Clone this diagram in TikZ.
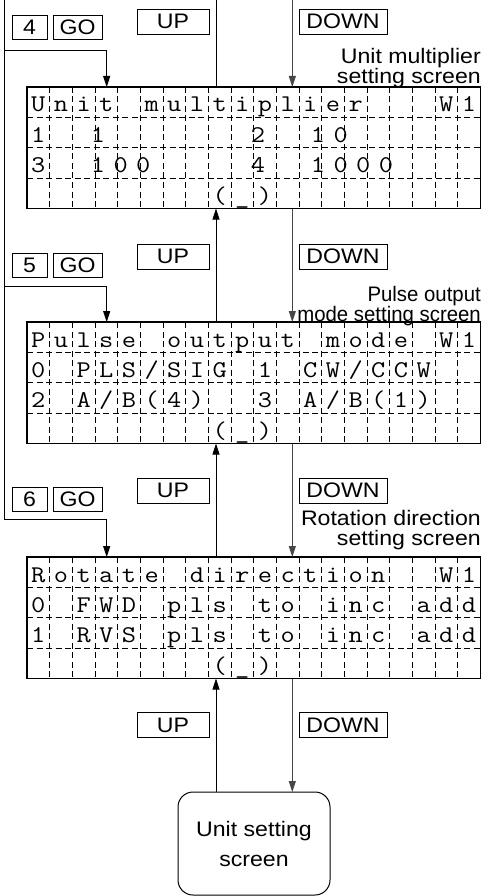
\documentclass[tikz,border=0pt]{standalone}
\usepackage{fontspec}
\usetikzlibrary{arrows.meta}
\newfontfamily\lblfont[FakeStretch=1.1]{Liberation Sans}
\newfontfamily\lblnarrow[FakeStretch=0.97]{Liberation Sans}
\newfontfamily\lcdfont[FakeStretch=1.15]{Latin Modern Mono}
\def\lp{(}
\def\rp{)}
\tikzset{
  lbl/.style={font=\lblfont\fontsize{21}{24}\selectfont, inner sep=0pt, anchor=base east},
  lbln/.style={font=\lblnarrow\fontsize{21}{24}\selectfont, inner sep=0pt, anchor=base east},
  keybox/.style={draw, line width=0.9pt, inner sep=0pt, outer sep=0pt,
    font=\lblfont\fontsize{21}{24}\selectfont},
  numkey/.style={keybox, minimum height=24pt},
  updown/.style={keybox, minimum height=25pt},
  lcd/.style={font=\lcdfont\fontsize{24}{28}\selectfont, inner sep=0pt, anchor=base},
  screenbox/.style={draw, line width=1.3pt, minimum width=453.3pt, minimum height=121.5pt,
    anchor=north west, inner sep=0pt, outer sep=0pt},
  cell/.style={line width=0.8pt, dash pattern=on 6pt off 3.5pt},
  conn/.style={line width=0.9pt},
  downconn/.style={line width=0.9pt, draw=black!72},
  tip/.style={-{Triangle[length=11pt,width=7pt]}},
  endbox/.style={draw, line width=1pt, rounded corners=15pt, minimum width=152pt,
    minimum height=103pt, anchor=north, outer sep=0pt, align=center,
    font=\lblfont\fontsize{21}{30}\selectfont}
}
\newcommand\lcdgrid[2]{%
  \node[screenbox] (#1) at (27,#2) {};
  \foreach \k in {1,...,19}
    \draw[cell] ({27+\k*22.667},#2) -- ({27+\k*22.667},{#2+121.5});
  \foreach \r in {1,2,3}
    \draw[cell] (27,{#2+30.375*\r}) -- (480.3,{#2+30.375*\r});
}
\newcommand\lcdrow[4]{%
  \foreach \c [count=\i from 0] in {#4}
    \node[lcd] (#1r#3c\i) at ({27+(\i+0.5)*22.667},{#2+30.375*#3+25}) {\c};
}
\begin{document}
\begin{tikzpicture}[x=1pt,y=-1pt]
\useasboundingbox (0,0) rectangle (483,896);

% ---------- screens ----------
\lcdgrid{A}{87}
\lcdgrid{B}{322}
\lcdgrid{C}{557}

% screen A text
\lcdrow{A}{87}{0}{U,n,i,t,{},m,u,l,t,i,p,l,i,e,r,{},{},{},W,1}
\node[lcd] (Ar1a) at (38.3,142.4) {1};
\node[lcd] (Ar1b) at (98,142.4) {1};
\node[lcd] (Ar1c) at (258,142.4) {2};
\node[lcd] (Ar1d) at (318,142.4) {1};
\node[lcd] (Ar1e) at (340.7,142.4) {0};
\node[lcd] (Ar2a) at (38.3,172.8) {3};
\node[lcd] (Ar2b) at (98,172.8) {1};
\node[lcd] (Ar2c) at (120.7,172.8) {0};
\node[lcd] (Ar2d) at (143.3,172.8) {0};
\node[lcd] (Ar2e) at (258,172.8) {4};
\node[lcd] (Ar2f) at (318,172.8) {1};
\node[lcd] (Ar2g) at (340.7,172.8) {0};
\node[lcd] (Ar2h) at (363.3,172.8) {0};
\node[lcd] (Ar2i) at (386,172.8) {0};
\lcdrow{A}{87}{3}{{},{},{},{},{},{},{},{},\lp,\_,\rp}

% screen B text
\lcdrow{B}{322}{0}{P,u,l,s,e,{},o,u,t,p,u,t,{},m,o,d,e,{},W,1}
\lcdrow{B}{322}{1}{0,{},P,L,S,/,S,I,G,{},1,{},C,W,/,C,C,W}
\lcdrow{B}{322}{2}{2,{},A,/,B,\lp,4,\rp,{},{},3,{},A,/,B,\lp,1,\rp}
\lcdrow{B}{322}{3}{{},{},{},{},{},{},{},{},\lp,\_,\rp}

% screen C text
\lcdrow{C}{557}{0}{R,o,t,a,t,e,{},d,i,r,e,c,t,i,o,n,{},{},W,1}
\lcdrow{C}{557}{1}{0,{},F,W,D,{},p,l,s,{},t,o,{},i,n,c,{},a,d,d}
\lcdrow{C}{557}{2}{1,{},R,V,S,{},p,l,s,{},t,o,{},i,n,c,{},a,d,d}
\lcdrow{C}{557}{3}{{},{},{},{},{},{},{},{},\lp,\_,\rp}

% ---------- key boxes ----------
\node[numkey, minimum width=35pt] (n4) at (29.5,27) {4};
\node[numkey, minimum width=49pt] (go4) at (77.5,27) {GO};
\node[updown, minimum width=72pt] (up1) at (173,21.5) {UP};
\node[updown, minimum width=88pt] (dn1) at (343,21.5) {DOWN};

\node[numkey, minimum width=35pt] (n5) at (29.5,265) {5};
\node[numkey, minimum width=49pt] (go5) at (77.5,265) {GO};
\node[updown, minimum width=72pt] (up2) at (173,256.5) {UP};
\node[updown, minimum width=88pt] (dn2) at (343,256.5) {DOWN};

\node[numkey, minimum width=35pt] (n6) at (29.5,499.5) {6};
\node[numkey, minimum width=49pt] (go6) at (77.5,499.5) {GO};
\node[updown, minimum width=72pt] (up3) at (173,490.5) {UP};
\node[updown, minimum width=88pt] (dn3) at (343,490.5) {DOWN};

\node[updown, minimum width=72pt] (up4) at (173,725) {UP};
\node[updown, minimum width=88pt] (dn4) at (343,725) {DOWN};

% ---------- screen titles ----------
\node[lbl] (la1) at (481,64) {Unit multiplier};
\node[lbl] (la2) at (481,84) {setting screen};
\node[lbln] (lb1) at (481,301) {Pulse output};
\node[lbln] (lb2) at (481,321) {mode setting screen};
\node[lbl] (lc1) at (481,525.5) {Rotation direction};
\node[lbl] (lc2) at (481,545.5) {setting screen};

% ---------- final box ----------
\node[endbox] (F) at (254,792) {Unit setting\\screen};

% ---------- connectors ----------
\coordinate (uX) at (216,0);
\coordinate (dX) at (292.3,0);
\coordinate (gX) at (106.7,0);
\coordinate (L0) at (4.5,0);
\coordinate (k1) at (4.5,50);
\coordinate (k2) at (4.5,286);
\coordinate (k3) at (4.5,519);

\draw[conn] (A.north -| uX) -- (uX);
\draw[downconn,tip] (dX) -- (dX |- A.north);
\draw[conn,tip] (B.north -| uX) -- (A.south -| uX);
\draw[downconn,tip] (A.south -| dX) -- (B.north -| dX);
\draw[conn,tip] (C.north -| uX) -- (B.south -| uX);
\draw[downconn,tip] (B.south -| dX) -- (C.north -| dX);
\draw[conn,tip] (F.north -| uX) -- (C.south -| uX);
\draw[downconn,tip] (C.south -| dX) -- (F.north -| dX);

\draw[conn,tip] (L0) -- (k3) -| (gX |- C.north);
\draw[conn,tip] (k1) -| (gX |- A.north);
\draw[conn,tip] (k2) -| (gX |- B.north);
\end{tikzpicture}
\end{document}
